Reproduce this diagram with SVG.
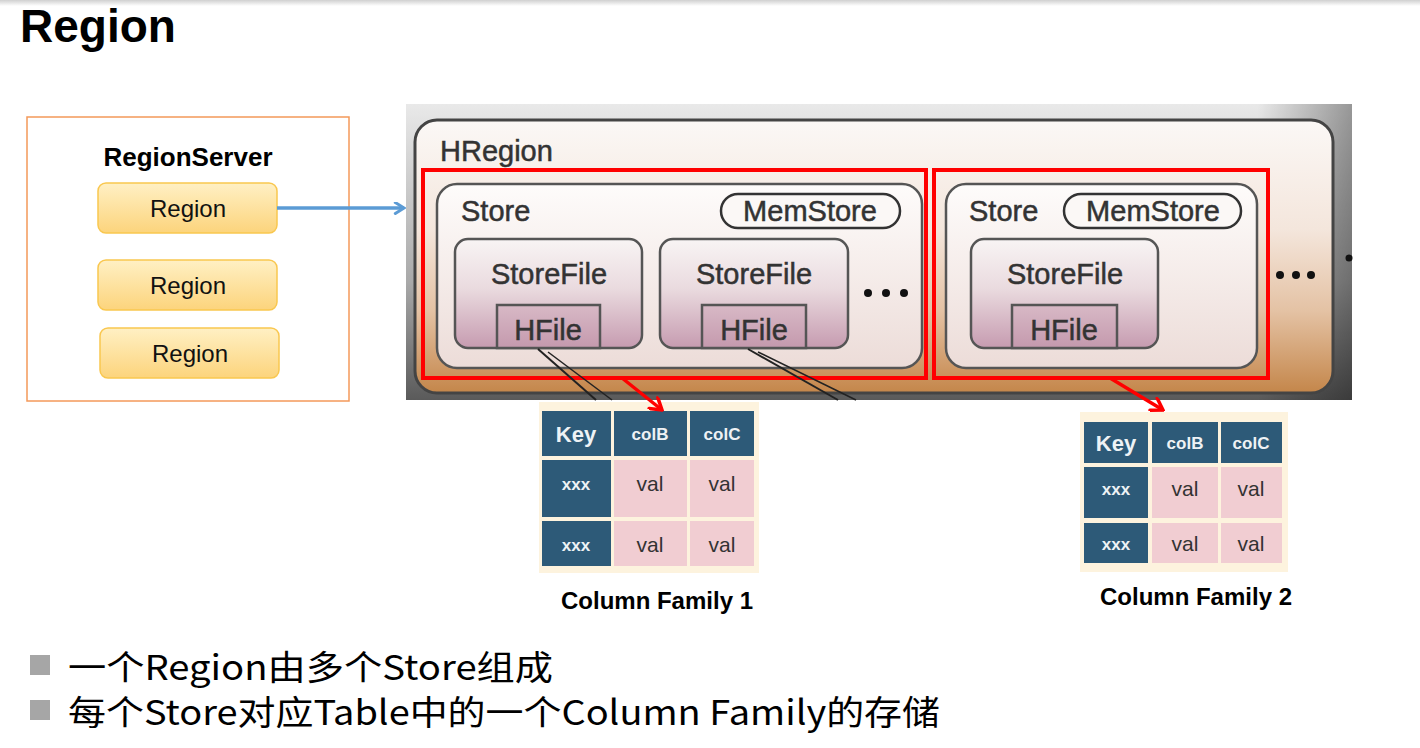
<svg xmlns="http://www.w3.org/2000/svg" width="1420" height="748" viewBox="0 0 1420 748">
<defs>
<linearGradient id="topbar" x1="0" y1="0" x2="0" y2="1"><stop offset="0" stop-color="#d0d0d0"/><stop offset="1" stop-color="#ffffff"/></linearGradient>
<linearGradient id="regionFill" x1="0" y1="0" x2="0" y2="1"><stop offset="0" stop-color="#fff0c4"/><stop offset="1" stop-color="#fcd47c"/></linearGradient>
<linearGradient id="imgBg" x1="0" y1="0" x2="0" y2="1"><stop offset="0" stop-color="#e9e9e9"/><stop offset="0.6" stop-color="#a9a9a9"/><stop offset="1" stop-color="#5a5a5a"/></linearGradient>
<linearGradient id="imgSide" x1="0" y1="0" x2="1" y2="0"><stop offset="0" stop-color="#000" stop-opacity="0"/><stop offset="0.9" stop-color="#000" stop-opacity="0"/><stop offset="1" stop-color="#000" stop-opacity="0.35"/></linearGradient>
<linearGradient id="hregionFill" x1="0" y1="0" x2="0" y2="1"><stop offset="0" stop-color="#fbf8f6"/><stop offset="0.4" stop-color="#f4e6dc"/><stop offset="0.7" stop-color="#e4c2a4"/><stop offset="1" stop-color="#c4864a"/></linearGradient>
<linearGradient id="storeFill" x1="0" y1="0" x2="0" y2="1"><stop offset="0" stop-color="#fefcfb"/><stop offset="1" stop-color="#ecdcd8"/></linearGradient>
<linearGradient id="sfFill" x1="0" y1="0" x2="0" y2="1"><stop offset="0" stop-color="#f8f4f4"/><stop offset="0.45" stop-color="#eadbdf"/><stop offset="1" stop-color="#c69bb0"/></linearGradient>
<linearGradient id="hfFill" x1="0" y1="0" x2="0" y2="1"><stop offset="0" stop-color="#d8b9c6"/><stop offset="1" stop-color="#c499ad"/></linearGradient>
<marker id="blueHead" viewBox="0 0 12 12" refX="10" refY="6" markerWidth="13" markerHeight="13" markerUnits="userSpaceOnUse" orient="auto"><path d="M2,1 L10,6 L2,11" fill="none" stroke="#5b9bd5" stroke-width="2.8" stroke-linecap="round"/></marker>
<marker id="redHead" viewBox="0 0 16 16" refX="14" refY="8" markerWidth="16" markerHeight="16" markerUnits="userSpaceOnUse" orient="auto"><path d="M3,1 L14,8 L3,15" fill="none" stroke="#ff0000" stroke-width="3.5" stroke-linecap="round"/></marker>
</defs>
<style>
.title{font-family:"Liberation Sans",Arial,sans-serif;font-weight:bold;font-size:46px;fill:#000}
.rs{font-family:"Liberation Sans",Arial,sans-serif;font-weight:bold;font-size:26px;fill:#000}
.reg{fill:url(#regionFill);stroke:#f9c74f;stroke-width:1.5}
.regt{font-family:"Liberation Sans",Arial,sans-serif;font-size:24px;fill:#111;text-anchor:middle}
.ht{font-family:"Liberation Sans",Arial,sans-serif;font-size:29px;fill:#333;stroke:#333;stroke-width:0.5}
.htm{font-family:"Liberation Sans",Arial,sans-serif;font-size:29px;fill:#333;stroke:#333;stroke-width:0.5;text-anchor:middle}
.store{fill:url(#storeFill);stroke:#555;stroke-width:2.5}
.sf{fill:url(#sfFill);stroke:#555;stroke-width:2.5}
.hf{fill:url(#hfFill);stroke:#555;stroke-width:2.5}
.mem{fill:#fbf8f6;stroke:#333;stroke-width:2.5}
.redbox{fill:none;stroke:#ff0000;stroke-width:4}
.dark{fill:#2d5a78}
.pink{fill:#f1cdd2}
.cream{fill:#fdf3de}
.th{font-family:"Liberation Sans",Arial,sans-serif;font-weight:bold;font-size:17px;fill:#eef2f5;text-anchor:middle}
.tk{font-family:"Liberation Sans Narrow","Liberation Sans",Arial,sans-serif;font-weight:bold;font-size:22px;fill:#eef2f5;text-anchor:middle}
.tv{font-family:"Liberation Sans Narrow","Liberation Sans",Arial,sans-serif;font-size:21px;fill:#333;text-anchor:middle}
.cf{font-family:"Liberation Sans",Arial,sans-serif;font-weight:bold;font-size:24px;fill:#000;text-anchor:middle}
.bul{fill:#a6a6a6}
.bt{font-family:"Noto Sans CJK SC","Noto Sans",sans-serif;font-size:34px;fill:#000}
.dot{fill:#111}
</style>
<rect x="0" y="0" width="1420" height="748" fill="#ffffff"/>
<rect x="0" y="0" width="1420" height="6" fill="url(#topbar)"/>
<text class="title" x="20" y="42">Region</text>

<g id="regionserver">
<rect x="27" y="117" width="322" height="284" fill="#ffffff" stroke="#f4995a" stroke-width="1.5"/>
<text class="rs" x="188" y="166" text-anchor="middle">RegionServer</text>
</g>
<g id="region1"><rect class="reg" x="98" y="183" width="179" height="50" rx="8"/><text class="regt" x="188" y="217">Region</text></g>
<g id="region2"><rect class="reg" x="98" y="260" width="179" height="50" rx="8"/><text class="regt" x="188" y="294">Region</text></g>
<g id="region3"><rect class="reg" x="100" y="328" width="179" height="50" rx="8"/><text class="regt" x="190" y="362">Region</text></g>

<g id="hregion">
<rect x="406" y="104" width="946" height="296" fill="url(#imgBg)"/>
<rect x="406" y="104" width="946" height="296" fill="url(#imgSide)"/>
<rect x="415" y="120" width="918" height="273" rx="22" fill="url(#hregionFill)" stroke="#444" stroke-width="3"/>
<text class="ht" x="440" y="161">HRegion</text>
<circle class="dot" cx="1349" cy="258" r="3.5"/>
</g>

<g id="store1">
<rect class="store" x="437" y="184" width="485" height="184" rx="20"/>
<text class="ht" x="461" y="221">Store</text>
<rect class="mem" x="721" y="194" width="179" height="34" rx="17"/>
<text class="htm" x="810" y="221">MemStore</text>
</g>
<g id="storefile1">
<rect class="sf" x="455" y="239" width="187" height="109" rx="13"/>
<text class="htm" x="549" y="284">StoreFile</text>
<rect class="hf" x="497" y="305" width="103" height="43"/>
<text class="htm" x="548" y="340">HFile</text>
</g>
<g id="storefile2">
<rect class="sf" x="660" y="239" width="188" height="109" rx="13"/>
<text class="htm" x="754" y="284">StoreFile</text>
<rect class="hf" x="702" y="305" width="104" height="43"/>
<text class="htm" x="754" y="340">HFile</text>
</g>
<g id="dots1"><circle class="dot" cx="868" cy="293" r="4"/><circle class="dot" cx="886" cy="293" r="4"/><circle class="dot" cx="904" cy="293" r="4"/></g>

<g id="store2">
<rect class="store" x="946" y="184" width="311" height="184" rx="20"/>
<text class="ht" x="969" y="221">Store</text>
<rect class="mem" x="1064" y="194" width="177" height="34" rx="17"/>
<text class="htm" x="1153" y="221">MemStore</text>
</g>
<g id="storefile3">
<rect class="sf" x="971" y="239" width="187" height="109" rx="13"/>
<text class="htm" x="1065" y="284">StoreFile</text>
<rect class="hf" x="1012" y="305" width="105" height="43"/>
<text class="htm" x="1064" y="340">HFile</text>
</g>
<g id="dots2"><circle class="dot" cx="1280" cy="275" r="4"/><circle class="dot" cx="1296" cy="275" r="4"/><circle class="dot" cx="1311" cy="275" r="4"/></g>

<g id="redbox1"><rect class="redbox" x="423" y="170" width="503" height="208"/></g>
<g id="redbox2"><rect class="redbox" x="934" y="170" width="334" height="208"/></g>

<g id="table1">
<rect class="cream" x="539" y="402" width="220" height="171"/>
<rect class="dark" x="542" y="411" width="69" height="45"/>
<rect class="dark" x="614" y="411" width="73" height="45"/>
<rect class="dark" x="690" y="411" width="64" height="45"/>
<rect class="dark" x="542" y="460" width="69" height="57"/>
<rect class="pink" x="614" y="460" width="73" height="57"/>
<rect class="pink" x="690" y="460" width="64" height="57"/>
<rect class="dark" x="542" y="521" width="69" height="45"/>
<rect class="pink" x="614" y="521" width="73" height="45"/>
<rect class="pink" x="690" y="521" width="64" height="45"/>
<text class="tk" x="576" y="442">Key</text>
<text class="th" x="650" y="440">colB</text>
<text class="th" x="722" y="440">colC</text>
<text class="th" x="576" y="490">xxx</text>
<text class="tv" x="650" y="491">val</text>
<text class="tv" x="722" y="491">val</text>
<text class="th" x="576" y="551">xxx</text>
<text class="tv" x="650" y="552">val</text>
<text class="tv" x="722" y="552">val</text>
<text class="cf" x="657" y="609">Column Family 1</text>
</g>

<g id="table2">
<rect class="cream" x="1080" y="412" width="208" height="160"/>
<rect class="dark" x="1084" y="422" width="64" height="41"/>
<rect class="dark" x="1152" y="422" width="66" height="41"/>
<rect class="dark" x="1221" y="422" width="61" height="41"/>
<rect class="dark" x="1084" y="467" width="64" height="51"/>
<rect class="pink" x="1152" y="467" width="66" height="51"/>
<rect class="pink" x="1221" y="467" width="61" height="51"/>
<rect class="dark" x="1084" y="523" width="64" height="40"/>
<rect class="pink" x="1152" y="523" width="66" height="40"/>
<rect class="pink" x="1221" y="523" width="61" height="40"/>
<text class="tk" x="1116" y="451">Key</text>
<text class="th" x="1185" y="449">colB</text>
<text class="th" x="1251" y="449">colC</text>
<text class="th" x="1116" y="495">xxx</text>
<text class="tv" x="1185" y="496">val</text>
<text class="tv" x="1251" y="496">val</text>
<text class="th" x="1116" y="550">xxx</text>
<text class="tv" x="1185" y="551">val</text>
<text class="tv" x="1251" y="551">val</text>
<text class="cf" x="1196" y="605">Column Family 2</text>
</g>

<g id="connectors">
<line x1="277" y1="208" x2="404" y2="208" stroke="#5b9bd5" stroke-width="3.5" marker-end="url(#blueHead)"/>
<path d="M538,349 L596,400" stroke="#222" stroke-width="2" fill="none"/>
<path d="M548,352 L612,400" stroke="#222" stroke-width="1.5" fill="none"/>
<path d="M748,349 L838,400" stroke="#222" stroke-width="2" fill="none"/>
<path d="M758,352 L856,400" stroke="#222" stroke-width="1.5" fill="none"/>
<line x1="622" y1="378" x2="662" y2="410" stroke="#ff0000" stroke-width="3.5" marker-end="url(#redHead)"/>
<line x1="1110" y1="378" x2="1163" y2="410" stroke="#ff0000" stroke-width="3.5" marker-end="url(#redHead)"/>
</g>

<g id="bullets">
<rect class="bul" x="30" y="655" width="20" height="20"/>
<text class="bt" x="68" y="680" textLength="485" lengthAdjust="spacingAndGlyphs">一个Region由多个Store组成</text>
<rect class="bul" x="30" y="700" width="20" height="20"/>
<text class="bt" x="68" y="725" textLength="872" lengthAdjust="spacingAndGlyphs">每个Store对应Table中的一个Column Family的存储</text>
</g>
</svg>
